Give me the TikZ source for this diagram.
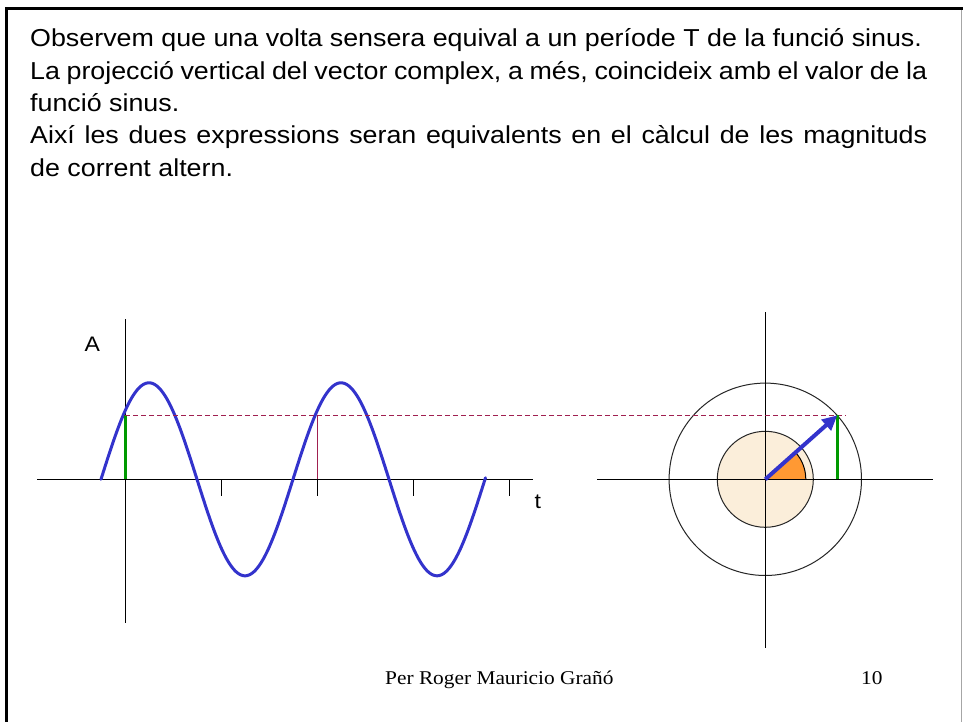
\documentclass[tikz,border=0pt]{standalone}
\usepackage{fontspec}
\setmainfont{Liberation Sans}
\newfontfamily\footfont{Liberation Serif}
\usetikzlibrary{arrows.meta,calc}
\definecolor{sinblue}{HTML}{3333CC}
\definecolor{projgreen}{HTML}{009900}
\definecolor{dashred}{HTML}{A02050}
\definecolor{wedgeorange}{HTML}{FF9933}
\definecolor{innerfill}{HTML}{FBEEDA}
\newcommand{\wide}[1]{\scalebox{1.095}[1]{#1}}
\begin{document}
\begin{tikzpicture}[x=1pt,y=1pt,
  maintext/.style={inner sep=0pt,anchor=base west,font=\fontsize{24.5}{24.5}\selectfont},
  axisline/.style={line width=1.2pt,black},
  tickline/.style={line width=1.2pt,black},
  projline/.style={line width=3.5pt,projgreen},
  guide/.style={line width=1pt,dashred,dash pattern=on 5pt off 3pt},
  lbl/.style={inner sep=0pt,anchor=base west,font=\fontsize{21}{21}\selectfont},
  foot/.style={inner sep=0pt,anchor=base west,font=\footfont\fontsize{19.5}{19.5}\selectfont}]
\useasboundingbox (0,0) rectangle (963,-722);
\fill[white] (0,0) rectangle (963,-722);
% slide frame
\draw[line width=3pt,black] (6,-722) -- (6,-9) -- (963,-9);
\draw[line width=1.5pt,black!35] (961.5,-10) -- (961.5,-722);
% text
\node[maintext] (l1) at (30,-47) {\wide{Observem que una volta sensera equival a un període T de la funció sinus.}};
\node[maintext] (l2) at (30,-79.3) {\wide{\makebox[819.2pt][s]{La projecció vertical del vector complex, a més, coincideix amb el valor de la}}};
\node[maintext] (l3) at (30,-111.6) {\wide{funció sinus.}};
\node[maintext] (l4) at (30,-144) {\wide{\makebox[819.2pt][s]{Així les dues expressions seran equivalents en el càlcul de les magnituds}}};
\node[maintext] (l5) at (30,-176.3) {\wide{de corrent altern.}};
% ---- sine graph
\coordinate (hx0) at (37,-479.3);
\coordinate (hx1) at (533,-479.3);
\coordinate (vy0) at (125.3,-319);
\coordinate (vy1) at (125.3,-623);
\draw[axisline] (hx0) -- (hx1);
\draw[axisline] (vy0) -- (vy1);
\foreach \tx in {221.3,317.3,413.3,509.3}
  \draw[tickline] (\tx,-479.3) -- (\tx,-495.5);
\draw[line width=1pt,dashred] (317.3,-415.3) -- (317.3,-479.3);
\draw[line width=3pt,sinblue,line cap=round]
  plot[domain=101:485.5,samples=240,smooth] (\x,{-(479.3-96.5*sin((\x-101)*1.875))});
\draw[projline] (125.3,-415.3) -- (125.3,-479.3);
\node[lbl] (A) at (84.3,-351.7) {\wide{A}};
\node[lbl] (t) at (534.5,-508) {\wide{t}};
% ---- phasor
\coordinate (O) at (765.3,-479.3);
\coordinate (tip) at (837.3,-415.3);
\coordinate (arcstart) at (805.8,-479.3);
\fill[innerfill] (O) circle[radius=48];
\fill[wedgeorange] (O) -- (arcstart) arc[start angle=0,end angle=41.6,radius=40.5] -- cycle;
\draw[line width=1pt,black] (arcstart) arc[start angle=0,end angle=41.6,radius=40.5];
\draw[line width=1pt,black!85] (O) circle[radius=48];
\draw[line width=1pt,black!85] (O) circle[radius=96.2];
\draw[axisline] (597.3,-479.3) -- (933.3,-479.3);
\draw[axisline] (765.3,-312) -- (765.3,-647.5);
\draw[guide] (125.3,-415.3) -- (845.7,-415.3);
\draw[projline] (tip) -- (837.3,-479.3);
\draw[line width=4pt,sinblue,-{Triangle[length=15pt,width=14pt]}] (O) -- (tip);
% footer
\node[foot] (author) at (385,-684) {\wide{Per Roger Mauricio Grañó}};
\node[foot] (page) at (861,-684) {\wide{10}};
\end{tikzpicture}
\end{document}
